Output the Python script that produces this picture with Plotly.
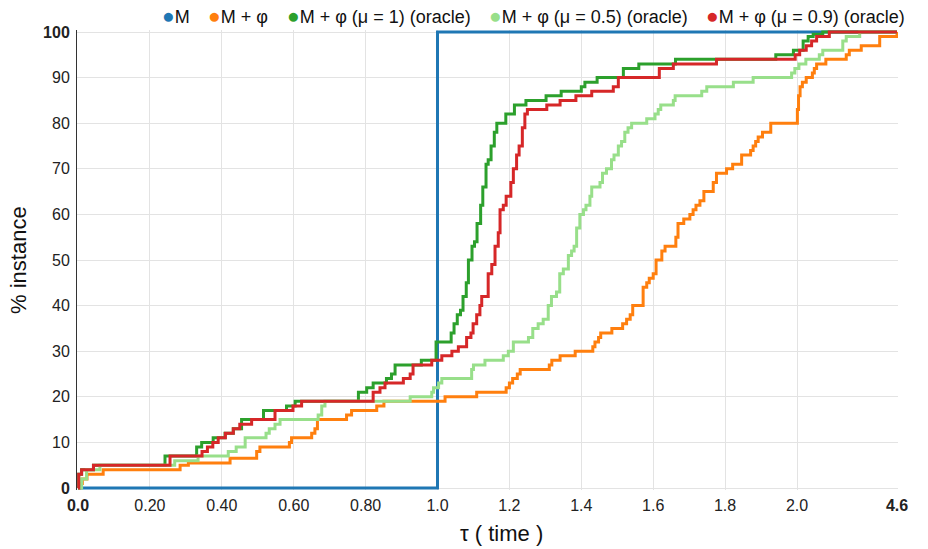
import plotly.graph_objects as go

# ---------------- data (tau, % instances solved) ----------------
m_tau = [0.0, 1.0, 4.6]
m_pct = [0, 100, 100]

phi_tau = [0.0, 0.005, 0.012, 0.025, 0.07, 0.284, 0.307, 0.423, 0.497, 0.506, 0.588, 0.594,
           0.65, 0.659, 0.666, 0.747, 0.761, 0.831, 0.851, 1.021, 1.109, 1.191, 1.2, 1.209,
           1.222, 1.23, 1.311, 1.318, 1.341, 1.383, 1.432, 1.438, 1.448, 1.454, 1.485, 1.515,
           1.526, 1.536, 1.543, 1.572, 1.582, 1.589, 1.6, 1.608, 1.624, 1.633, 1.663, 1.669,
           1.685, 1.702, 1.711, 1.719, 1.73, 1.741, 1.767, 1.776, 1.804, 1.821, 1.846, 1.871,
           1.878, 1.885, 1.892, 1.904, 1.927, 2.01, 2.04, 2.08, 2.14, 2.24, 2.40, 2.45, 2.51,
           2.75, 3.28, 3.36, 3.67, 4.15, 4.6, 4.6]
phi_pct = [0, 1, 2, 3, 4, 5, 5.5, 6.5, 8, 9, 10, 11,
           12, 13, 15, 16, 17, 18, 19, 20, 21, 22, 23, 24,
           25, 26, 27, 28, 29, 30, 31, 32, 33, 34, 35, 36,
           37, 38, 40, 44, 45, 46, 47, 50, 52, 53, 55, 58,
           59, 60, 61, 62, 63, 65, 67, 69, 70, 71, 73, 74,
           75, 76, 77, 78, 80, 83, 86, 88, 89, 90, 91, 92, 93,
           94, 95, 96, 97, 99, 100, 100]

mu1_tau = [0.0, 0.002, 0.01, 0.043, 0.242, 0.33, 0.344, 0.376, 0.409, 0.432, 0.455, 0.516,
           0.58, 0.604, 0.78, 0.803, 0.821, 0.858, 0.872, 0.882, 0.955, 0.996, 1.038, 1.046,
           1.055, 1.064, 1.071, 1.08, 1.086, 1.096, 1.103, 1.11, 1.12, 1.126, 1.135, 1.141,
           1.149, 1.158, 1.165, 1.19, 1.214, 1.246, 1.302, 1.344, 1.40, 1.41, 1.444, 1.517,
           1.56, 1.662, 1.941, 1.99, 2.16, 2.29, 2.42, 2.67, 4.6]
mu1_pct = [0, 3, 4, 5, 7, 9, 10, 11, 12, 13, 15, 17,
           18, 19, 21, 22, 23, 24, 25, 27, 28, 32, 34, 36,
           38, 39, 42, 45, 50, 53, 54, 58, 62, 66, 71, 72,
           75, 78, 80, 82, 84, 85, 86, 87, 88, 89, 90, 92,
           93, 94, 95, 96, 98, 99, 99.5, 100, 100]

mu05_tau = [0.0, 0.01, 0.024, 0.061, 0.269, 0.334, 0.418, 0.44, 0.465, 0.523, 0.532, 0.548,
            0.562, 0.668, 0.678, 0.687, 0.924, 0.984, 0.989, 1.003, 1.012, 1.095, 1.10, 1.132,
            1.183, 1.197, 1.211, 1.253, 1.265, 1.28, 1.294, 1.308, 1.317, 1.331, 1.34, 1.35,
            1.364, 1.373, 1.38, 1.387, 1.396, 1.406, 1.413, 1.424, 1.429, 1.452, 1.459, 1.47,
            1.484, 1.491, 1.503, 1.512, 1.521, 1.53, 1.54, 1.582, 1.605, 1.614, 1.621, 1.656,
            1.661, 1.735, 1.749, 1.823, 1.878, 1.985, 1.994, 2.05, 2.23, 2.58, 2.67, 3.19,
            3.28, 3.63, 4.6]
mu05_pct = [0, 2, 4, 5, 6, 7, 8, 9, 11, 12, 13, 14,
            15, 16, 18, 19, 20, 21, 22, 23, 24, 26, 27, 28,
            29, 30, 32, 33, 35, 36, 37, 40, 42, 43, 47, 48,
            51, 52, 53, 57, 60, 61, 62, 64, 66, 67, 69, 70,
            72, 73, 75, 76, 78, 79, 80, 81, 82, 83, 84, 85,
            86, 87, 88, 89, 90, 91, 92, 93, 94, 95, 96, 98,
            99, 100, 100]

mu09_tau = [0.0, 0.002, 0.01, 0.043, 0.256, 0.345, 0.36, 0.375, 0.39, 0.41, 0.432, 0.45,
            0.483, 0.548, 0.598, 0.622, 0.821, 0.84, 0.854, 0.905, 0.924, 0.932, 0.984, 1.012,
            1.04, 1.058, 1.081, 1.093, 1.099, 1.109, 1.118, 1.123, 1.141, 1.151, 1.16, 1.169,
            1.174, 1.183, 1.191, 1.204, 1.211, 1.22, 1.227, 1.236, 1.243, 1.25, 1.304, 1.341,
            1.385, 1.429, 1.489, 1.503, 1.617, 1.656, 1.776, 1.995, 2.07, 2.24, 2.38, 2.51,
            2.84, 4.6]
mu09_pct = [0, 3, 4, 5, 7, 8, 9, 10, 11, 12, 13, 14,
            15, 17, 18, 19, 21, 22, 23, 24, 25, 27, 28, 29,
            30, 31, 33, 34, 36, 38, 40, 42, 47, 49, 53, 56,
            61, 62, 64, 67, 70, 73, 75, 79, 82, 83, 84, 85,
            86, 87, 88, 90, 92, 93, 94, 95, 96, 97, 98, 99,
            100, 100]

series_names = ["M", "M + φ", "M + φ (μ = 1) (oracle)", "M + φ (μ = 0.5) (oracle)",
                "M + φ (μ = 0.9) (oracle)"]
series_colors = ["#1f77b4", "#ff7f0e", "#2ca02c", "#98df8a", "#d62728"]

x_tick_values = [0.0, 0.2, 0.4, 0.6, 0.8, 1.0, 1.2, 1.4, 1.6, 1.8, 2.0, 4.6]
x_tick_labels = ["<b>0.0</b>", "0.20", "0.40", "0.60", "0.80", "1.0", "1.2", "1.4",
                 "1.6", "1.8", "2.0", "<b>4.6</b>"]
y_tick_values = [0, 10, 20, 30, 40, 50, 60, 70, 80, 90, 100]
y_tick_labels = ["<b>0</b>", "10", "20", "30", "40", "50", "60", "70", "80", "90",
                 "<b>100</b>"]

# ------------- piecewise axis scale: linear to 2.0, compressed tail -------------
TAIL = 0.107


def scale_x(t):
    return t if t <= 2.0 else 2.0 + (t - 2.0) * TAIL


FONT = "Arial, Liberation Sans, sans-serif"

fig = go.Figure()
data = [(m_tau, m_pct), (phi_tau, phi_pct), (mu1_tau, mu1_pct), (mu05_tau, mu05_pct),
        (mu09_tau, mu09_pct)]
for (tx, py), name, col in zip(data, series_names, series_colors):
    fig.add_trace(go.Scatter(
        x=[scale_x(t) for t in tx], y=py, mode="lines", name=name,
        line=dict(color=col, width=3, shape="hv"), showlegend=False,
        hoverinfo="skip"))

W, H = 928, 549
L, T = 77, 30
pw, ph = 821, 460
R = W - L - pw
B = H - T - ph
xpx = 359.5
x0 = -1 / xpx
x1 = x0 + pw / xpx
ypx = 4.56
y0 = -2 / ypx
y1 = y0 + ph / ypx


def paper_x(page_px):
    return (page_px - L) / pw


def paper_y(page_py):
    return (T + ph - page_py) / ph


fig.update_layout(
    width=W, height=H,
    margin=dict(l=L, r=R, t=T, b=B),
    plot_bgcolor="white", paper_bgcolor="white",
    font=dict(family=FONT, size=16, color="#222"),
    showlegend=False,
    xaxis=dict(range=[x0, x1], tickvals=[scale_x(t) for t in x_tick_values],
               ticktext=x_tick_labels, showgrid=True, gridcolor="#e3e3e3", gridwidth=1,
               zeroline=False, showline=False, ticks="", ticklabelstandoff=4,
               tickfont=dict(size=16, color="#222", family=FONT)),
    yaxis=dict(range=[y0, y1], tickvals=y_tick_values, ticktext=y_tick_labels,
               showgrid=True, gridcolor="#e3e3e3", gridwidth=1, zeroline=False,
               showline=True, linecolor="#333", linewidth=1, ticks="",
               ticklabelstandoff=3,
               tickfont=dict(size=16, color="#222", family=FONT)),
)

# axis titles
fig.add_annotation(text="τ ( time )", xref="paper", yref="paper",
                   x=paper_x(501.5), y=paper_y(533),
                   xanchor="center", yanchor="middle", showarrow=False,
                   font=dict(size=22, color="#111", family=FONT))
fig.add_annotation(text="% instance", xref="paper", yref="paper",
                   x=paper_x(18), y=paper_y(260), textangle=-90,
                   xanchor="center", yanchor="middle", showarrow=False,
                   font=dict(size=22, color="#111", family=FONT))

# legend row
legend_px = [160, 206, 285, 487, 704]
for name, col, px in zip(series_names, series_colors, legend_px):
    fig.add_annotation(
        text=f"<span style='color:{col};font-size:21px'>●</span>{name}",
        xref="paper", yref="paper", x=paper_x(px), y=paper_y(16),
        xanchor="left", yanchor="middle", showarrow=False,
        font=dict(size=18, color="#111", family=FONT))

fig.write_html("out.html",
               config={"displayModeBar": False, "staticPlot": True},
               post_script="document.body.style.margin='0';"
                           "document.body.style.overflow='hidden';")
